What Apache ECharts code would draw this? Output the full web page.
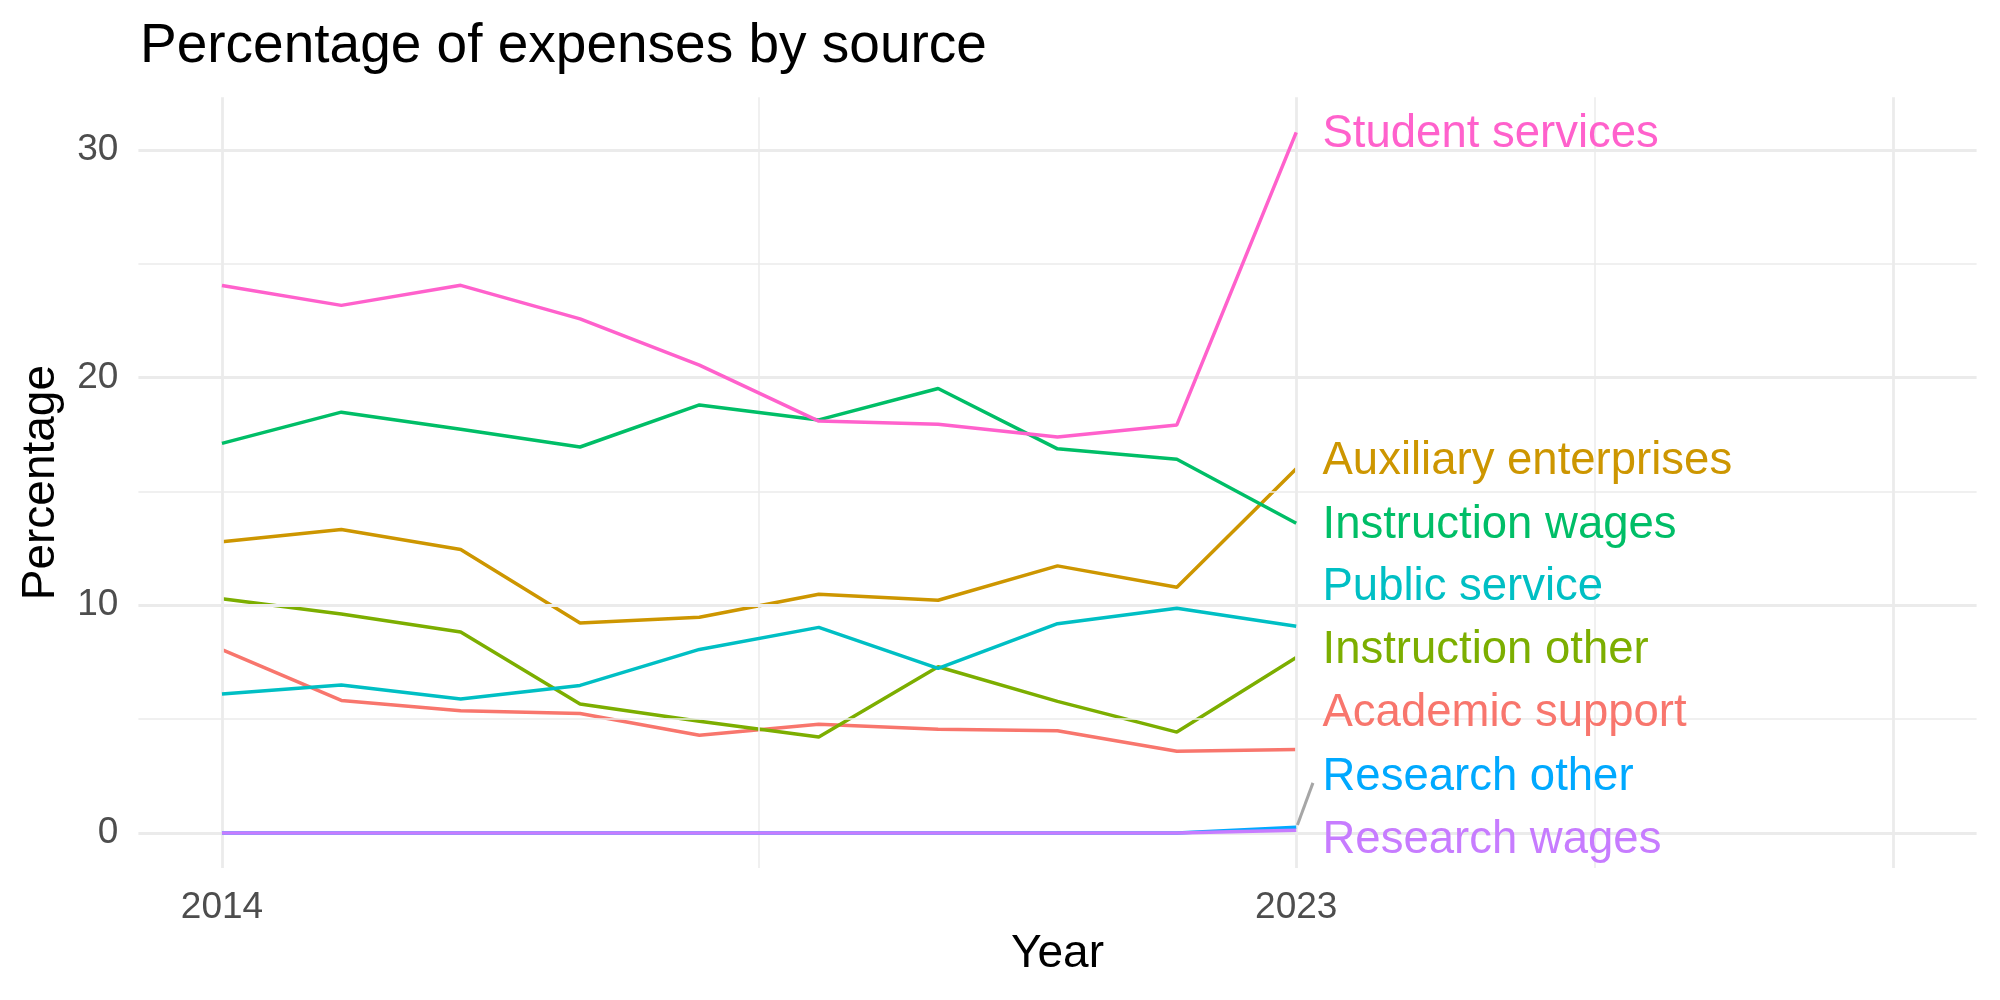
<!DOCTYPE html>
<html>
<head>
<meta charset="utf-8">
<title>Percentage of expenses by source</title>
<script src="https://cdn.jsdelivr.net/npm/echarts@6/dist/echarts.min.js"></script>
<style>
    html, body {margin: 0; padding: 0; background: #ffffff;}
    #line_chart {width: 2000px; height: 1000px;}
</style>
</head>
<body>
<div id="line_chart"></div>
<script>
var years = [2014, 2015, 2016, 2017, 2018, 2019, 2020, 2021, 2022, 2023]

var academicSupport = [8.05, 5.82, 5.37, 5.25, 4.29, 4.77, 4.55, 4.49, 3.59, 3.67]
var auxiliaryEnterprises = [12.79, 13.33, 12.45, 9.22, 9.47, 10.48, 10.22, 11.73, 10.79, 16.0]
var instructionOther = [10.29, 9.62, 8.83, 5.66, 4.91, 4.21, 7.30, 5.78, 4.43, 7.71]
var instructionWages = [17.11, 18.48, 17.73, 16.95, 18.80, 18.14, 19.52, 16.87, 16.41, 13.60]
var publicService = [6.10, 6.50, 5.88, 6.48, 8.06, 9.03, 7.23, 9.19, 9.87, 9.08]
var researchOther = [0, 0, 0, 0, 0, 0, 0, 0, 0, 0.25]
var researchWages = [0, 0, 0, 0, 0, 0, 0, 0, 0, 0.12]
var studentServices = [24.04, 23.17, 24.05, 22.58, 20.55, 18.09, 17.95, 17.39, 17.92, 30.77]

var seriesNames = ['Academic support', 'Auxiliary enterprises', 'Instruction other', 'Instruction wages',
    'Public service', 'Research other', 'Research wages', 'Student services']
var seriesValues = [academicSupport, auxiliaryEnterprises, instructionOther, instructionWages,
    publicService, researchOther, researchWages, studentServices]

// repelled label positions (y, in data units) next to the last year
var labelY = [5.23, 16.30, 8.01, 13.52, 10.79, 2.45, -0.33, 30.68]

var xTicks = [2014, 2023]
var yTicks = [0, 10, 20, 30]
var xMajorGrid = [2014, 2023, 2028]
var xMinorGrid = [2018.5, 2025.5]
var yMajorGrid = [0, 10, 20, 30]
var yMinorGrid = [5, 15, 25]

var colors = ['#F8766D', '#CD9600', '#7CAE00', '#00BE67', '#00BFC4', '#00A9FF', '#C77CFF', '#FF61CC']
var fontName = '"Liberation Sans", Arial, Helvetica, sans-serif'

function getLineChart() {
    var line_chart = document.getElementById('line_chart')
    var instance = echarts.init(line_chart, null, {renderer: 'canvas'})

    // ggplot style expansion of 5% on both axes
    var xMin = 2014 - 0.05 * 14, xMax = 2028 + 0.05 * 14
    var yTop = Math.max.apply(null, studentServices)
    var yMin = -0.05 * yTop, yMax = yTop * 1.05

    var gridLines = []
    xMajorGrid.forEach(function (v) {
        gridLines.push({xAxis: v, lineStyle: {width: 2.8}})
    })
    xMinorGrid.forEach(function (v) {
        gridLines.push({xAxis: v, lineStyle: {width: 1.5}})
    })
    yMajorGrid.forEach(function (v) {
        gridLines.push({yAxis: v, lineStyle: {width: 2.8}})
    })
    yMinorGrid.forEach(function (v) {
        gridLines.push({yAxis: v, lineStyle: {width: 1.5}})
    })

    let series = [{
        name: 'grid',
        type: 'line',
        data: [],
        z: 0,
        silent: true,
        markLine: {
            silent: true,
            symbol: 'none',
            label: {show: false},
            lineStyle: {color: '#EBEBEB', type: 'solid'},
            data: gridLines
        }
    }]

    seriesNames.forEach(function (name, i) {
        let s = {
            name: name,
            type: 'line',
            data: years.map(function (y, j) { return [y, seriesValues[i][j]] }),
            showSymbol: false,
            z: 2 + i,
            lineStyle: {color: colors[i], width: 3.5},
            itemStyle: {color: colors[i]},
            markPoint: {
                symbol: 'circle',
                symbolSize: 0,
                silent: true,
                data: [{coord: [2023.22, labelY[i]], value: name}],
                label: {
                    show: true,
                    position: 'right',
                    distance: 0,
                    formatter: name,
                    color: colors[i],
                    fontSize: 45.5,
                    fontFamily: fontName
                }
            }
        }
        if (name === 'Research other') {
            s.markLine = {
                silent: true,
                symbol: 'none',
                label: {show: false},
                lineStyle: {color: '#A6A6A6', width: 3, type: 'solid'},
                data: [[{coord: [2023.01, 0.35]}, {coord: [2023.14, 2.2]}]]
            }
        }
        series.push(s)
    })

    let option = {
        animation: false,
        backgroundColor: '#ffffff',
        title: {
            text: 'Percentage of expenses by source',
            left: 140,
            top: 19,
            padding: 0,
            textStyle: {
                color: '#000000',
                fontSize: 55,
                fontWeight: 'normal',
                fontFamily: fontName
            }
        },
        grid: {
            left: 138.4,
            right: 23.4,
            top: 97.3,
            bottom: 132
        },
        xAxis: {
            type: 'value',
            min: xMin,
            max: xMax,
            name: 'Year',
            nameLocation: 'middle',
            nameGap: 62,
            nameTextStyle: {color: '#000000', fontSize: 46, fontFamily: fontName},
            axisLine: {show: false},
            axisTick: {show: false},
            splitLine: {show: false},
            axisLabel: {
                customValues: xTicks,
                formatter: function (v) { return String(v) },
                color: '#4D4D4D',
                fontSize: 37,
                margin: 21,
                fontFamily: fontName
            }
        },
        yAxis: {
            type: 'value',
            min: yMin,
            max: yMax,
            name: 'Percentage',
            nameLocation: 'middle',
            nameRotate: 90,
            nameGap: 74,
            nameTextStyle: {color: '#000000', fontSize: 46, fontFamily: fontName},
            axisLine: {show: false},
            axisTick: {show: false},
            splitLine: {show: false},
            axisLabel: {
                customValues: yTicks,
                formatter: function (v) { return String(v) },
                color: '#4D4D4D',
                fontSize: 37,
                margin: 20,
                fontFamily: fontName
            }
        },
        series: series
    }
    instance.setOption(option)
}

getLineChart()
</script>
</body>
</html>
